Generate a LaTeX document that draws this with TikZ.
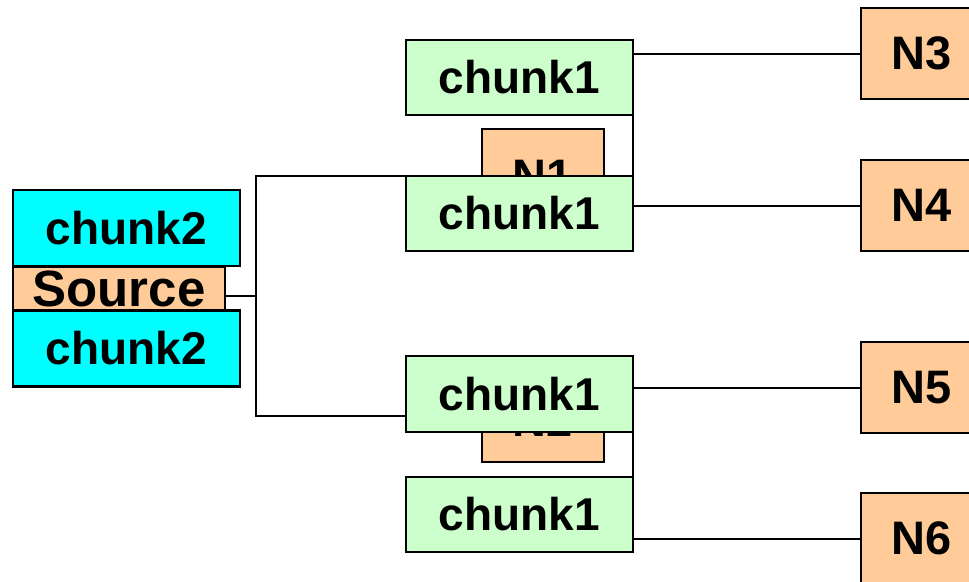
\documentclass[tikz,border=0pt]{standalone}
\usepackage{fontspec}
\usetikzlibrary{backgrounds}
\setmainfont{Liberation Sans}
\definecolor{peach}{HTML}{FFCC99}
\definecolor{mint}{HTML}{CCFFCC}
\definecolor{aqua}{HTML}{00FFFF}
\begin{document}
\begin{tikzpicture}[x=1pt,y=-1pt,
  box/.style={draw=black,line width=2.4pt,inner sep=0pt,align=center,
    font=\bfseries\fontsize{46}{50}\selectfont},
  nodebox/.style={box,fill=peach,minimum width=122pt,minimum height=92pt,
    font=\bfseries\fontsize{47}{50}\selectfont},
  chunkone/.style={box,fill=mint,minimum width=227pt,minimum height=75pt},
  chunktwo/.style={box,fill=aqua,minimum width=227pt,minimum height=76pt},
  link/.style={draw=black,line width=2pt}]
\useasboundingbox (0,0) rectangle (969,581);

% intermediate nodes, partly hidden behind the chunk boxes
\node[nodebox,minimum height=94pt] (n1) at (543,176) {N1};
\node[nodebox] (n2) at (543,416) {\smash{\raisebox{-20pt}{N2}}};

% chunk boxes
\node[chunkone] (c1a) at (519.5,77.5) {chunk1};
\node[chunkone] (c1b) at (519.5,213.5) {chunk1};
\node[chunkone,minimum height=76pt] (c1c) at (519.5,394) {chunk1};
\node[chunkone] (c1d) at (519.5,514.5) {chunk1};

% source with its two chunks
\node[box,fill=peach,minimum width=212pt,minimum height=44pt,
  font=\bfseries\fontsize{51}{54}\selectfont] (src) at (119,289) {Source};
\node[chunktwo] (c2a) at (126.5,228) {chunk2};
\node[chunktwo] (c2b) at (126.5,348.5) {chunk2};

% destination nodes
\node[nodebox,minimum height=91pt] (n3) at (922,53.5) {N3};
\node[nodebox,minimum height=91pt] (n4) at (922,205.5) {N4};
\node[nodebox,minimum height=91pt] (n5) at (922,387.5) {N5};
\node[nodebox,minimum height=91pt] (n6) at (922,538.5) {N6};

% junction points of the tree
\coordinate (j0) at (256,296);
\coordinate (jt) at (633,176);
\coordinate (jb) at (633,416);

% connectors, kept behind all boxes
\begin{scope}[on background layer]
\draw[link] (src.east |- j0) -- (j0);
\draw[link] (j0) |- (n1.west);
\draw[link] (j0) |- (n2.west);
\draw[link] (n1.east) -- (jt) |- (n3.west);
\draw[link] (jt) |- (n4.west);
\draw[link] (n2.east) -- (jb) |- (n5.west);
\draw[link] (jb) |- (n6.west);
\end{scope}
\end{tikzpicture}
\end{document}
